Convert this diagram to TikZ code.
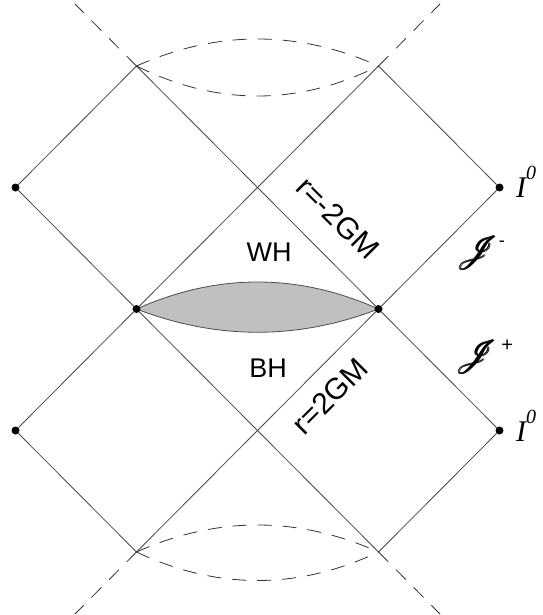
\documentclass[tikz,border=0pt]{standalone}
\usepackage{fontspec}
\usepackage{amsmath}
\usepackage{mathrsfs}
\usepackage{graphicx}
\setmainfont{Liberation Sans}
\newfontfamily\timesf{Liberation Serif}
\newcommand{\scrJ}{\scalebox{1.35}{$\pmb{\mathscr{J}}$}}
\begin{document}
\begin{tikzpicture}[x=1pt,y=-1pt,
  edge/.style={draw=black!72, line width=0.8pt},
  dashedge/.style={draw=black!80, line width=0.8pt, dash pattern=on 14pt off 11pt},
  dot/.style={circle, fill=black, inner sep=0pt, minimum size=8pt},
  lbl/.style={font=\fontsize{27}{30}\selectfont, inner sep=0pt},
  rlbl/.style={font=\fontsize{30}{32}\selectfont, inner sep=0pt},
  inf/.style={font=\timesf\itshape\fontsize{30}{32}\selectfont, inner sep=0pt, anchor=base west},
  scri/.style={font=\fontsize{24}{28}\selectfont, inner sep=0pt}]
\useasboundingbox (0,0) rectangle (542,615);
% vertices
\coordinate (T1) at (136.5,66);
\coordinate (T2) at (378.5,66);
\coordinate (B1) at (136.5,552);
\coordinate (B2) at (378.5,552);
\coordinate (E1) at (75,4);
\coordinate (E2) at (440,4);
\coordinate (E3) at (75,614);
\coordinate (E4) at (440,614);
% lens
\draw[draw=black!70, line width=0.8pt, fill={rgb,255:red,192;green,192;blue,192}]
  (136.5,309) .. controls (217,273) and (298,273) .. (378.5,309)
  .. controls (298,340) and (217,340) .. (136.5,309) -- cycle;
% dots
\node[dot] (L1) at (15.5,187.5) {};
\node[dot] (L2) at (15.5,430.5) {};
\node[dot] (C1) at (136.5,309) {};
\node[dot] (C2) at (378.5,309) {};
\node[dot] (R1) at (499.5,187.5) {};
\node[dot] (R2) at (499.5,430.5) {};
% solid edges
\draw[edge] (L1) -- (T1);
\draw[edge] (T1) -- (C2);
\draw[edge] (C2) -- (R2);
\draw[edge] (T2) -- (R1);
\draw[edge] (T2) -- (C1);
\draw[edge] (C1) -- (L2);
\draw[edge] (L1) -- (C1);
\draw[edge] (C1) -- (B2);
\draw[edge] (R1) -- (C2);
\draw[edge] (C2) -- (B1);
\draw[edge] (L2) -- (B1);
\draw[edge] (B2) -- (R2);
% dashed extensions
\draw[dashedge] (T1) -- (E1);
\draw[dashedge] (T2) -- (E2);
\draw[dashedge] (B1) -- (E3);
\draw[dashedge] (B2) -- (E4);
% dashed bows
\draw[dashedge] (T1) .. controls (217,30) and (298,30) .. (T2);
\draw[dashedge] (T1) .. controls (217,106) and (298,106) .. (T2);
\draw[dashedge] (B1) .. controls (217,516) and (298,516) .. (B2);
\draw[dashedge] (B1) .. controls (217,590) and (298,590) .. (B2);
% labels
\node[lbl] (wh) at (269,252) {WH};
\node[lbl] (bh) at (268,368) {BH};
\node[rlbl, rotate=-45] (rm) at (338,218) {r=-2GM};
\node[rlbl, rotate=45] (rp) at (330,396) {r=2GM};
\node[inf] (i1) at (516,197) {I\raisebox{18pt}{\fontsize{20}{22}\selectfont 0}};
\node[inf] (i2) at (516,441) {I\raisebox{18pt}{\fontsize{20}{22}\selectfont 0}};
\node[scri, anchor=base west] (jm) at (457,260) {\scrJ\raisebox{14pt}{\fontsize{18}{20}\selectfont -}};
\node[scri, anchor=base west] (jp) at (456,364) {\scrJ\raisebox{13pt}{\fontsize{20}{22}\selectfont\,+}};
\end{tikzpicture}
\end{document}
